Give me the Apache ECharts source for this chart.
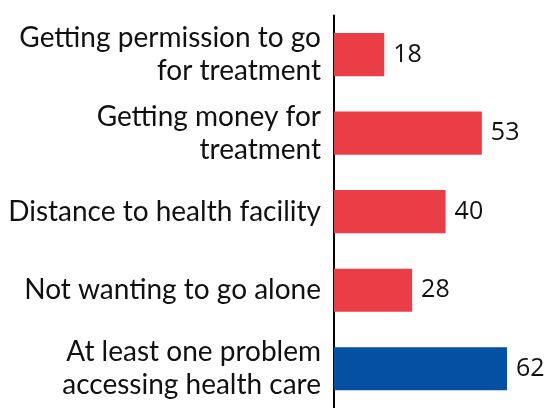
<!DOCTYPE html>
<html>
<head>
<meta charset="utf-8">
<script src="https://cdn.jsdelivr.net/npm/echarts@6/dist/echarts.min.js"></script>
<style>
  html, body { margin: 0; padding: 0; background: #fff; }
  #chart { width: 553px; height: 408px; }
</style>
</head>
<body>
<div id="chart"></div>
<script>
// Problems in accessing health care (percent)
const categories = [
  'Getting permission to go\nfor treatment',
  'Getting money for\ntreatment',
  'Distance to health facility',
  'Not wanting to go alone',
  'At least one problem\naccessing health care'
];
const values = [18, 53, 40, 28, 62];
const barColors = ['#EB3D45', '#EB3D45', '#EB3D45', '#EB3D45', '#0650A4'];

const chart = echarts.init(document.getElementById('chart'), null, { renderer: 'canvas' });

chart.setOption({
  animation: false,
  backgroundColor: '#ffffff',
  grid: { left: 334, right: 23.7, top: 15.4, height: 401.25 },
  xAxis: {
    type: 'value',
    min: 0,
    max: 70,
    show: false
  },
  yAxis: {
    type: 'category',
    inverse: true,
    data: categories,
    axisLine: { show: true, lineStyle: { color: '#000', width: 2 } },
    axisTick: { show: false },
    axisLabel: {
      margin: 13,
      color: '#111',
      fontFamily: 'Lato',
      fontSize: 28,
      lineHeight: 33,
      align: 'right'
    }
  },
  series: [{
    type: 'bar',
    data: values.map((v, i) => ({ value: v, itemStyle: { color: barColors[i] } })),
    barWidth: '55%',
    label: {
      show: true,
      position: 'right',
      distance: 9,
      color: '#111',
      fontFamily: 'Open Sans',
      fontSize: 25
    }
  }]
});
</script>
</body>
</html>
